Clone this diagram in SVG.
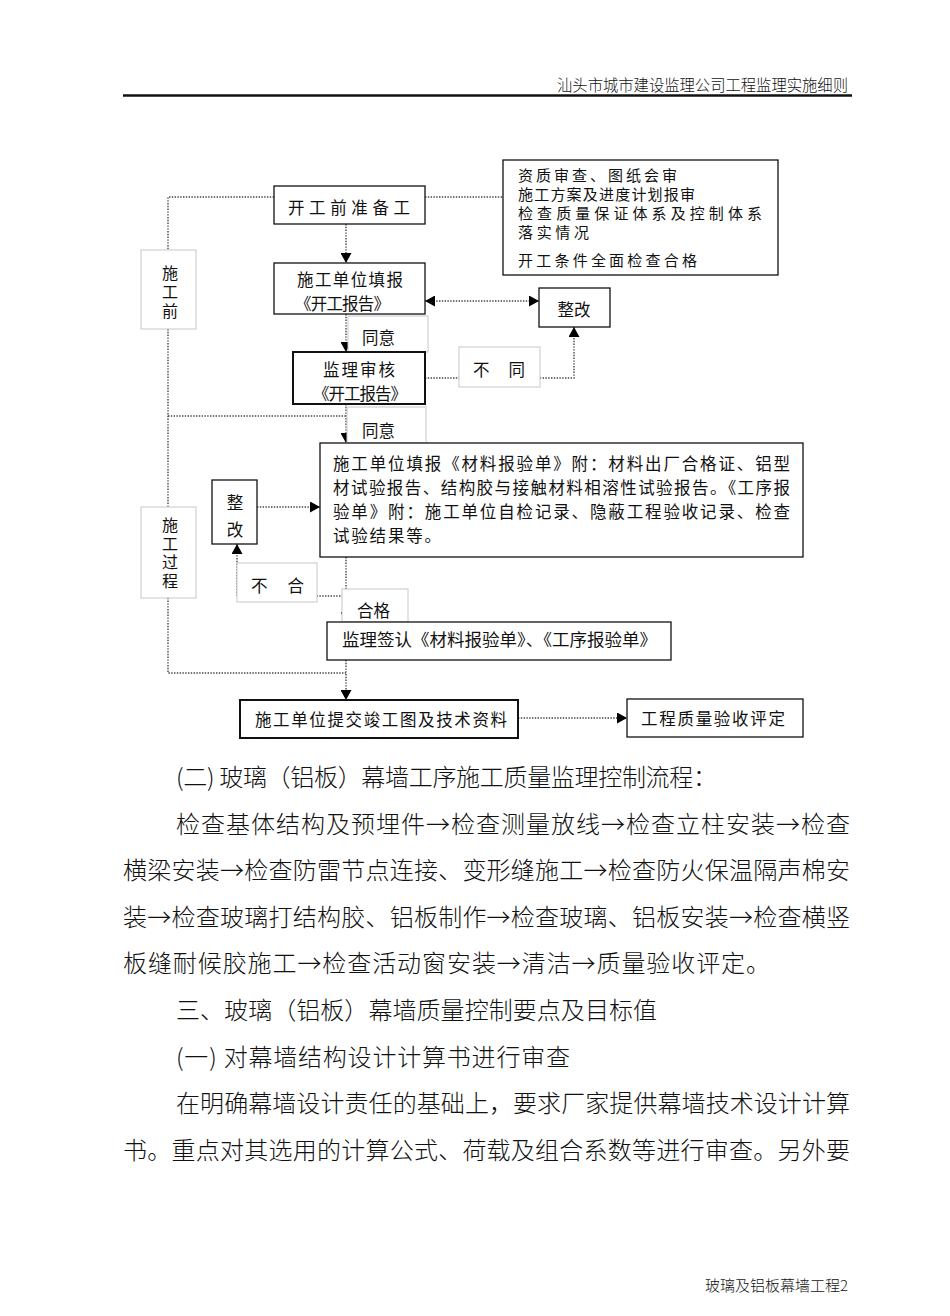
<svg xmlns="http://www.w3.org/2000/svg" width="950" height="1316" viewBox="0 0 950 1316">
<style>
text{font-family:"Noto Sans CJK SC","Noto Sans CJK JP",sans-serif;font-weight:300;fill:#111}
.f{font-size:16.5px;font-weight:400}
.i{font-size:15px;font-weight:400}
.v{font-size:16px;font-weight:400;writing-mode:vertical-rl}
.b{font-size:24px}
.box{fill:#fff;stroke:#111;stroke-width:1.3}
.tbox{fill:#fff;stroke:#111;stroke-width:2}
.lbl{fill:#fff;stroke:#c8c8c8;stroke-width:1}
.dl{fill:none;stroke:#444;stroke-width:1.4;stroke-dasharray:1.4 1.4}
.arr{marker-end:url(#ah)}
</style>
<defs>
<marker id="ah" markerUnits="userSpaceOnUse" markerWidth="10" markerHeight="11" refX="10" refY="5.5" orient="auto">
<path d="M0,0 L10,5.5 L0,11 z" fill="#000"/>
</marker>
<marker id="ahs" markerUnits="userSpaceOnUse" markerWidth="10" markerHeight="11" refX="0" refY="5.5" orient="auto">
<path d="M10,0 L0,5.5 L10,11 z" fill="#000"/>
</marker>
</defs>
<rect width="950" height="1316" fill="#fff"/>

<g id="header">
<text x="557" y="91" textLength="291" lengthAdjust="spacingAndGlyphs" style="font-size:15.5px">汕头市城市建设监理公司工程监理实施细则</text>
<line x1="123" y1="95.5" x2="852" y2="95.5" stroke="#111" stroke-width="2.5"/>
</g>

<g id="connectors">
<polyline class="dl" points="274,197 168,197 168,673 346,673"/>
<line class="dl" x1="168" y1="416" x2="346" y2="416"/>
<line class="dl" x1="425" y1="197" x2="503" y2="197"/>
<line class="dl arr" x1="346" y1="224" x2="346" y2="263"/>
<line class="dl arr" x1="346" y1="314" x2="346" y2="352"/>
<line class="dl arr" x1="346" y1="404" x2="346" y2="443"/>
<line class="dl arr" x1="346" y1="557" x2="346" y2="622"/>
<line class="dl arr" x1="346" y1="660" x2="346" y2="700"/>
<line class="dl arr" x1="425" y1="301" x2="539" y2="301" style="marker-start:url(#ahs)"/>
<polyline class="dl arr" points="425,378 574,378 574,327"/>
<line class="dl arr" x1="257" y1="507" x2="320" y2="507"/>
<polyline class="dl arr" points="346,596 237,596 237,544"/>
<line class="dl arr" x1="518" y1="718" x2="627" y2="718"/>
</g>

<g id="label-shigongqian">
<rect class="lbl" x="141" y="250" width="55" height="79"/>
<text class="v" x="170" y="265" style="letter-spacing:3px">施工前</text>
</g>
<g id="label-shigongguocheng">
<rect class="lbl" x="141" y="507" width="55" height="91"/>
<text class="v" x="170" y="517" style="letter-spacing:2.5px">施工过程</text>
</g>

<g id="node-prep">
<rect class="box" x="274" y="186" width="151" height="38"/>
<text class="f" x="288" y="214" textLength="122" lengthAdjust="spacing">开工前准备工</text>
</g>

<g id="node-info">
<rect class="box" x="503" y="160" width="275" height="115"/>
<text class="i" x="518" y="181" textLength="159" lengthAdjust="spacing">资质审查、图纸会审</text>
<text class="i" x="518" y="200" textLength="177" lengthAdjust="spacing">施工方案及进度计划报审</text>
<text class="i" x="518" y="219" textLength="244" lengthAdjust="spacing">检查质量保证体系及控制体系</text>
<text class="i" x="518" y="238" textLength="71" lengthAdjust="spacing">落实情况</text>
<text class="i" x="518" y="266" textLength="179" lengthAdjust="spacing">开工条件全面检查合格</text>
</g>

<g id="node-report">
<rect class="box" x="274" y="263" width="151" height="51"/>
<text class="f" x="297" y="286" textLength="106" lengthAdjust="spacing">施工单位填报</text>
<text class="f" x="295" y="310" textLength="95" lengthAdjust="spacing">《开工报告》</text>
</g>

<g id="node-fix1">
<rect class="box" x="539" y="288" width="71" height="39"/>
<text class="f" x="574" y="316" text-anchor="middle">整改</text>
</g>

<g id="label-agree1">
<rect class="lbl" x="348" y="316" width="80" height="36"/>
<text class="f" x="362" y="344">同意</text>
</g>

<g id="node-review">
<rect class="tbox" x="293" y="352" width="132" height="52"/>
<text class="f" x="323" y="376" textLength="72" lengthAdjust="spacing">监理审核</text>
<text class="f" x="313" y="400" textLength="94" lengthAdjust="spacing">《开工报告》</text>
</g>

<g id="label-disagree">
<rect class="lbl" x="459" y="347" width="81" height="40"/>
<text class="f" x="473" y="376" textLength="52" lengthAdjust="spacing">不　同</text>
</g>

<g id="label-agree2">
<rect class="lbl" x="347" y="407" width="79" height="36"/>
<text class="f" x="362" y="437">同意</text>
</g>

<g id="node-material">
<rect class="box" x="320" y="443" width="483" height="114"/>
<text class="f" x="333" y="470" textLength="457" lengthAdjust="spacing">施工单位填报《材料报验单》附：材料出厂合格证、铝型</text>
<text class="f" x="333" y="494" textLength="457" lengthAdjust="spacing">材试验报告、结构胶与接触材料相溶性试验报告。《工序报</text>
<text class="f" x="333" y="518" textLength="457" lengthAdjust="spacing">验单》附：施工单位自检记录、隐蔽工程验收记录、检查</text>
<text class="f" x="333" y="542" style="letter-spacing:1.8px">试验结果等。</text>
</g>

<g id="node-fix2">
<rect class="box" x="212" y="480" width="45" height="64"/>
<text class="f" x="235" y="509" text-anchor="middle">整</text>
<text class="f" x="235" y="536" text-anchor="middle">改</text>
</g>

<g id="label-fail">
<rect class="lbl" x="237" y="563" width="80" height="39"/>
<text class="f" x="251" y="592" textLength="53" lengthAdjust="spacing">不　合</text>
</g>

<g id="label-pass">
<rect class="lbl" x="342" y="589" width="66" height="33"/>
<text class="f" x="357" y="617">合格</text>
</g>

<g id="node-sign">
<rect class="box" x="327" y="622" width="344" height="38"/>
<text class="f" x="342" y="646" textLength="315" lengthAdjust="spacingAndGlyphs">监理签认《材料报验单》、《工序报验单》</text>
</g>

<g id="node-submit">
<rect class="tbox" x="240" y="700" width="278" height="38"/>
<text class="f" x="255" y="726" textLength="252" lengthAdjust="spacing">施工单位提交竣工图及技术资料</text>
</g>

<g id="node-evaluate">
<rect class="box" x="627" y="699" width="176" height="38"/>
<text class="f" x="641" y="725" textLength="144" lengthAdjust="spacing">工程质量验收评定</text>
</g>

<g id="body">
<text class="b" x="176" y="786" textLength="541" lengthAdjust="spacing">(二) 玻璃（铝板）幕墙工序施工质量监理控制流程：</text>
<text class="b" x="176" y="833" textLength="674" lengthAdjust="spacing">检查基体结构及预埋件→检查测量放线→检查立柱安装→检查</text>
<text class="b" x="123" y="879" textLength="727" lengthAdjust="spacing">横梁安装→检查防雷节点连接、变形缝施工→检查防火保温隔声棉安</text>
<text class="b" x="123" y="926" textLength="727" lengthAdjust="spacing">装→检查玻璃打结构胶、铝板制作→检查玻璃、铝板安装→检查横竖</text>
<text class="b" x="123" y="972" textLength="647" lengthAdjust="spacing">板缝耐候胶施工→检查活动窗安装→清洁→质量验收评定。</text>
<text class="b" x="176" y="1019" textLength="481" lengthAdjust="spacing">三、玻璃（铝板）幕墙质量控制要点及目标值</text>
<text class="b" x="176" y="1066" textLength="394" lengthAdjust="spacing">(一) 对幕墙结构设计计算书进行审查</text>
<text class="b" x="176" y="1112" textLength="674" lengthAdjust="spacing">在明确幕墙设计责任的基础上，要求厂家提供幕墙技术设计计算</text>
<text class="b" x="123" y="1159" textLength="727" lengthAdjust="spacing">书。重点对其选用的计算公式、荷载及组合系数等进行审查。另外要</text>
</g>

<g id="footer">
<text x="848" y="1291" text-anchor="end" style="font-size:15px">玻璃及铝板幕墙工程2</text>
</g>
</svg>
